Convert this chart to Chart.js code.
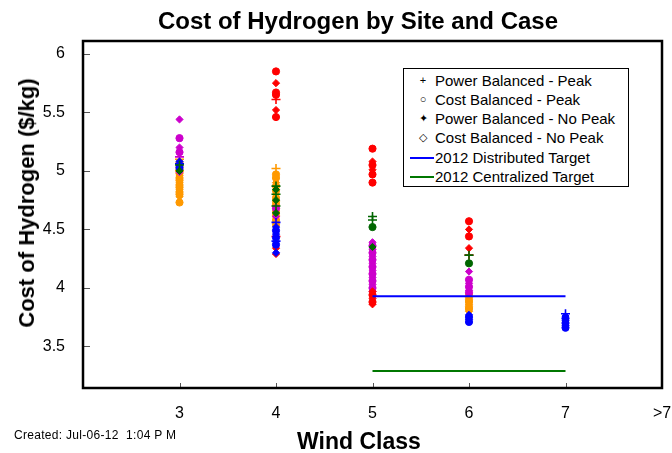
<!DOCTYPE html>
<html>
<head>
<meta charset="utf-8">
<script src="https://cdn.jsdelivr.net/npm/chart.js@4.4.0/dist/chart.umd.min.js"></script>
<style>
  body { margin: 0; background: #fff; font-family: "Liberation Sans", Arial, sans-serif; }
  #wrap { position: relative; width: 672px; height: 453px; overflow: hidden; }
  .lbl { position: absolute; white-space: nowrap; color: #000; }
  #title { left: 358px; top: 7px; transform: translateX(-50%); font-weight: bold; font-size: 24px; }
  #ytitle { left: 27px; top: 203px; transform: translate(-50%, -50%) rotate(-90deg); font-weight: bold; font-size: 22px; }
  #xtitle { left: 359px; top: 428px; transform: translateX(-50%); font-weight: bold; font-size: 23px; }
  #created { left: 14px; top: 428px; font-size: 12px; letter-spacing: 0.3px; }
  #legend { position: absolute; left: 403px; top: 68px; width: 224px; height: 117px; border: 1.5px solid #000; background: #fff; font-size: 15px; color: #000; }
  .row { position: absolute; left: 0; height: 19px; line-height: 19px; white-space: nowrap; }
  .mk { position: absolute; left: 12px; width: 14px; text-align: center; font-size: 11px; color: #000; }
  .ln { position: absolute; left: 6px; width: 24px; top: 9px; border-top: 2px solid; }
  .tx { position: absolute; left: 31px; white-space: nowrap; }
</style>
</head>
<body>
<div id="wrap">
  <canvas id="chart" width="672" height="453"></canvas>
  <div class="lbl" id="title">Cost of Hydrogen by Site and Case</div>
  <div class="lbl" id="ytitle">Cost of Hydrogen ($/kg)</div>
  <div class="lbl" id="xtitle">Wind Class</div>
  <div class="lbl" id="created">Created: Jul-06-12&nbsp; 1:04 P M</div>
  <div id="legend">
    <div class="row" style="top:2px"><span class="mk">+</span><span class="tx">Power Balanced - Peak</span></div>
    <div class="row" style="top:21px"><span class="mk">&#9675;</span><span class="tx">Cost Balanced - Peak</span></div>
    <div class="row" style="top:40px"><span class="mk">&#10022;</span><span class="tx">Power Balanced - No Peak</span></div>
    <div class="row" style="top:59px"><span class="mk">&#9671;</span><span class="tx">Cost Balanced - No Peak</span></div>
    <div class="row" style="top:79px"><span class="ln" style="border-color:#0000ff"></span><span class="tx">2012 Distributed Target</span></div>
    <div class="row" style="top:98px"><span class="ln" style="border-color:#007700"></span><span class="tx">2012 Centralized Target</span></div>
  </div>
</div>
<script>
// wind class tick labels (x = 3..8)
const xTickValues = [3, 4, 5, 6, 7, 8];
const xTickLabels = ['3', '4', '5', '6', '7', '>7'];
const yTickValues = [3.5, 4, 4.5, 5, 5.5, 6];

// case codes: p = power balanced peak, c = cost balanced peak, s = power balanced no peak, d = cost balanced no peak
const redX = [4, 4, 4, 4, 4, 4, 4, 4, 4, 4, 5, 5, 5, 5, 5, 5, 5, 5, 5, 5, 5, 6, 6, 6, 6, 6];
const redY = [5.85, 5.75, 5.67, 5.65, 5.61, 5.52, 5.46, 4.44, 4.34, 4.29, 5.19, 5.08, 5.05, 5.01, 4.97, 4.90, 3.97, 3.94, 3.91, 3.88, 3.86, 4.57, 4.50, 4.44, 4.34, 4.28];
const redCase = ['c', 's', 'c', 'c', 'p', 's', 'c', 'p', 's', 's', 'c', 's', 'c', 's', 'c', 'c', 's', 'c', 's', 'c', 's', 'c', 's', 'c', 's', 'p'];

const orangeX = [3, 3, 3, 3, 3, 3, 3, 3, 3, 3, 3, 3, 3, 3, 3, 3, 3, 4, 4, 4, 4, 4, 4, 4, 4, 4, 4, 4, 4, 4, 4, 4, 6, 6, 6, 6, 6, 6, 6, 6];
const orangeY = [5.10, 5.07, 5.04, 5.02, 5.00, 4.98, 4.96, 4.94, 4.92, 4.90, 4.88, 4.86, 4.84, 4.82, 4.80, 4.78, 4.73, 5.02, 4.97, 4.94, 4.90, 4.87, 4.83, 4.80, 4.77, 4.74, 4.71, 4.68, 4.65, 4.62, 4.58, 4.54, 3.94, 3.92, 3.90, 3.88, 3.86, 3.84, 3.82, 3.80];
const orangeCase = ['p', 'c', 'd', 'c', 'p', 'c', 'd', 'c', 'c', 'd', 'c', 'c', 'd', 'c', 'c', 'd', 'c', 'p', 'c', 'c', 'd', 'c', 'c', 'd', 'c', 'c', 'c', 'd', 'c', 'c', 'c', 'c', 'c', 'd', 'c', 'c', 'd', 'c', 'c', 'd'];

const greenX = [3, 3, 4, 4, 4, 4, 4, 4, 5, 5, 5, 5, 6, 6];
const greenY = [5.05, 5.00, 4.87, 4.84, 4.80, 4.75, 4.70, 4.64, 4.61, 4.58, 4.52, 4.35, 4.28, 4.21];
const greenCase = ['p', 's', 'p', 's', 'p', 's', 'p', 's', 'p', 'p', 'c', 's', 'p', 'c'];

const blueX = [3, 3, 3, 3, 4, 4, 4, 4, 4, 4, 4, 4, 6, 6, 6, 6, 7, 7, 7, 7, 7, 7, 7];
const blueY = [5.08, 5.06, 5.03, 5.01, 4.56, 4.52, 4.49, 4.46, 4.43, 4.40, 4.37, 4.30, 3.77, 3.75, 3.73, 3.71, 3.78, 3.76, 3.74, 3.72, 3.70, 3.68, 3.66];
const blueCase = ['s', 'p', 'c', 's', 'p', 's', 'c', 's', 'c', 'p', 'c', 's', 's', 'c', 's', 'c', 'p', 's', 'c', 's', 'c', 's', 'c'];

const magentaX = [3, 3, 3, 3, 3, 3, 4, 4, 5, 5, 5, 5, 5, 5, 5, 5, 5, 5, 5, 5, 5, 5, 5, 6, 6, 6, 6, 6, 6];
const magentaY = [5.44, 5.28, 5.20, 5.16, 5.12, 4.99, 4.68, 4.61, 4.39, 4.36, 4.33, 4.30, 4.27, 4.24, 4.21, 4.18, 4.15, 4.12, 4.09, 4.06, 4.03, 4.00, 3.97, 4.14, 4.07, 4.04, 4.01, 3.98, 3.96];
const magentaCase = ['s', 'c', 's', 'c', 'p', 'd', 'c', 's', 's', 'c', 'd', 'c', 's', 'c', 'd', 'c', 's', 'c', 'd', 'c', 's', 'c', 'd', 's', 'c', 'd', 'c', 's', 'c'];

// targets
const distributedTarget = 3.93;
const centralizedTarget = 3.29;
const targetRange = [5, 7];

const styleFor = { p: 'cross', c: 'circle', s: 'rectRot', d: 'rectRot' };

function siteDataset(name, color, xs, ys, cases) {
  return {
    type: 'scatter',
    label: name,
    data: xs.map((x, i) => ({ x: x, y: ys[i] })),
    pointStyle: cases.map(c => styleFor[c]),
    pointRadius: cases.map(c => c === 'p' ? 4.5 : 3.6),
    pointBorderWidth: cases.map(c => c === 'p' ? 1.6 : 1),
    backgroundColor: color,
    borderColor: color
  };
}

function targetDataset(name, color, value) {
  return {
    type: 'line',
    label: name,
    data: targetRange.map(x => ({ x: x, y: value })),
    borderColor: color,
    borderWidth: 2,
    pointRadius: 0,
    fill: false
  };
}

// box around the plot and inward tick marks
const frame = {
  id: 'frame',
  afterDatasetsDraw(chart) {
    const ctx = chart.ctx;
    const a = chart.chartArea;
    const xs = chart.scales.x, ys = chart.scales.y;
    ctx.save();
    ctx.strokeStyle = '#555';
    ctx.lineWidth = 1;
    yTickValues.forEach(v => {
      const y = Math.round(ys.getPixelForValue(v)) + 0.5;
      ctx.beginPath(); ctx.moveTo(a.left, y); ctx.lineTo(a.left + 7, y); ctx.stroke();
    });
    xTickValues.forEach(v => {
      const x = Math.round(xs.getPixelForValue(v)) + 0.5;
      ctx.beginPath(); ctx.moveTo(x, a.bottom); ctx.lineTo(x, a.bottom - 5); ctx.stroke();
    });
    ctx.strokeStyle = '#000';
    ctx.lineWidth = 2.5;
    ctx.strokeRect(a.left, a.top, a.right - a.left, a.bottom - a.top);
    ctx.restore();
  }
};

const ctx = document.getElementById('chart').getContext('2d');
new Chart(ctx, {
  data: {
    datasets: [
      targetDataset('2012 Distributed Target', '#0000ff', distributedTarget),
      targetDataset('2012 Centralized Target', '#007700', centralizedTarget),
      siteDataset('green', '#006600', greenX, greenY, greenCase),
      siteDataset('blue', '#0000ff', blueX, blueY, blueCase),
      siteDataset('red', '#ff0000', redX, redY, redCase),
      siteDataset('magenta', '#cc00cc', magentaX, magentaY, magentaCase),
      siteDataset('orange', '#ff9900', orangeX, orangeY, orangeCase)
    ]
  },
  options: {
    responsive: false,
    animation: false,
    devicePixelRatio: 1,
    layout: { padding: { top: 41, right: 10, left: 0, bottom: 0 } },
    plugins: {
      legend: { display: false },
      tooltip: { enabled: false }
    },
    scales: {
      x: {
        type: 'linear',
        min: 2,
        max: 8,
        grid: { display: false },
        border: { display: false },
        afterBuildTicks: scale => { scale.ticks = xTickValues.map(v => ({ value: v })); },
        afterFit: scale => { scale.height = 65; scale.paddingLeft = 0; scale.paddingRight = 0; },
        ticks: {
          padding: 8,
          color: '#000',
          font: { family: '"Liberation Sans", Arial', size: 16 },
          callback: v => xTickLabels[xTickValues.indexOf(v)]
        }
      },
      y: {
        type: 'linear',
        min: 3.145,
        max: 6.11,
        grid: { display: false },
        border: { display: false },
        afterBuildTicks: scale => { scale.ticks = yTickValues.map(v => ({ value: v })); },
        afterFit: scale => { scale.width = 83; scale.paddingTop = 0; scale.paddingBottom = 0; },
        ticks: {
          padding: 10,
          color: '#000',
          font: { family: '"Liberation Sans", Arial', size: 16 },
          callback: v => String(v)
        }
      }
    }
  },
  plugins: [frame]
});
</script>
</body>
</html>
